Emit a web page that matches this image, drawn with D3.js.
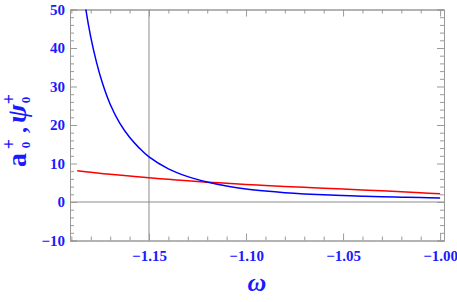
<!DOCTYPE html>
<html>
<head>
<meta charset="utf-8">
<script src="https://cdn.jsdelivr.net/npm/d3@7"></script>
<style>
  body { margin: 0; background: #fff; }
  text { font-family: "Liberation Serif", "DejaVu Serif", serif; font-weight: bold; fill: #1a1aff; }
</style>
</head>
<body>
<div id="chart"></div>
<script>
var W = 457, H = 302;

// omega samples and read-off values
var omegaBlue = [-1.186, -1.183, -1.180, -1.177, -1.174, -1.170, -1.165, -1.160, -1.155, -1.150,
                 -1.140, -1.130, -1.120, -1.110, -1.100, -1.090, -1.080, -1.070, -1.060, -1.050,
                 -1.040, -1.030, -1.020, -1.010, -1.000];
var aBlue = [63, 51.5, 42.8, 36.2, 30.9, 25.4, 20.4, 16.8, 14, 11.7,
             8.6, 6.6, 5.2, 4.15, 3.4, 2.85, 2.42, 2.1, 1.86, 1.66,
             1.5, 1.37, 1.25, 1.15, 1.05];

var omegaRed = [-1.187, -1.180, -1.170, -1.160, -1.150, -1.140, -1.130, -1.120, -1.110, -1.100,
                -1.090, -1.080, -1.070, -1.060, -1.050, -1.040, -1.030, -1.020, -1.010, -1.000];
var psiRed = [8.1, 7.7, 7.2, 6.75, 6.3, 5.9, 5.5, 5.15, 4.85, 4.55,
              4.3, 4.05, 3.8, 3.55, 3.35, 3.1, 2.9, 2.65, 2.4, 2.15];

var xMajor = [-1.15, -1.10, -1.05, -1.00];
var yMajor = [-10, 0, 10, 20, 30, 40, 50];

var mL = 70, mR = 444, mT = 9.5, mB = 240.5;

var x = d3.scaleLinear().domain([-1.1907, -0.998]).range([mL, mR]);
var y = d3.scaleLinear().domain([-10, 50]).range([mB, mT]);

var svg = d3.select("#chart").append("svg")
    .attr("width", W)
    .attr("height", H);

svg.append("clipPath").attr("id", "clip")
  .append("rect")
    .attr("x", mL).attr("y", mT)
    .attr("width", mR - mL).attr("height", mB - mT);

// origin axes (at omega=-1.15, 0)
svg.append("line")
    .attr("x1", x(-1.15)).attr("x2", x(-1.15))
    .attr("y1", mT).attr("y2", mB)
    .attr("stroke", "#8c8c8c").attr("stroke-width", 1);
svg.append("line")
    .attr("x1", mL).attr("x2", mR)
    .attr("y1", y(0)).attr("y2", y(0))
    .attr("stroke", "#8c8c8c").attr("stroke-width", 1);

// frame with ticks on all sides
var xMinor = d3.range(-1.19, -0.9995, 0.01).filter(function(v) {
  return !xMajor.some(function(m) { return Math.abs(m - v) < 1e-6; });
});
var yMinor = d3.range(-10, 50.01, 2).filter(function(v) { return v % 10 != 0; });

var frameColor = "#9a9a9a";

var gx = svg.append("g").attr("transform", "translate(0," + mB + ")")
    .call(d3.axisBottom(x).tickValues(xMajor).tickSize(-7).tickPadding(10)
      .tickFormat(function(d) { return d3.format(".2f")(d).replace("-", "\u2212"); }));
var gxm = svg.append("g").attr("transform", "translate(0," + mB + ")")
    .call(d3.axisBottom(x).tickValues(xMinor).tickSize(-4).tickFormat(""));
var gxt = svg.append("g").attr("transform", "translate(0," + mT + ")")
    .call(d3.axisTop(x).tickValues(xMajor).tickSize(-7).tickFormat(""));
var gxtm = svg.append("g").attr("transform", "translate(0," + mT + ")")
    .call(d3.axisTop(x).tickValues(xMinor).tickSize(-4).tickFormat(""));

var gy = svg.append("g").attr("transform", "translate(" + mL + ",0)")
    .call(d3.axisLeft(y).tickValues(yMajor).tickSize(-7).tickPadding(5)
      .tickFormat(function(d) { return String(d).replace("-", "\u2212"); }));
var gym = svg.append("g").attr("transform", "translate(" + mL + ",0)")
    .call(d3.axisLeft(y).tickValues(yMinor).tickSize(-4).tickFormat(""));
var gyr = svg.append("g").attr("transform", "translate(" + mR + ",0)")
    .call(d3.axisRight(y).tickValues(yMajor).tickSize(-7).tickFormat(""));
var gyrm = svg.append("g").attr("transform", "translate(" + mR + ",0)")
    .call(d3.axisRight(y).tickValues(yMinor).tickSize(-4).tickFormat(""));

[gx, gxm, gxt, gxtm, gy, gym, gyr, gyrm].forEach(function(g) {
  g.selectAll(".domain").attr("stroke", frameColor).attr("stroke-width", 1);
  g.selectAll(".tick line").attr("stroke", frameColor);
  g.selectAll("text").attr("fill", "#1a1aff")
    .style("font-family", "'Liberation Serif', serif")
    .style("font-weight", "bold")
    .style("font-size", "15px");
});

// curves
var line = d3.line()
    .x(function(d) { return x(d[0]); })
    .y(function(d) { return y(d[1]); })
    .curve(d3.curveCatmullRom.alpha(0.5));

var plot = svg.append("g").attr("clip-path", "url(#clip)");

plot.append("path")
    .datum(d3.zip(omegaRed, psiRed))
    .attr("fill", "none")
    .attr("stroke", "#ff0000")
    .attr("stroke-width", 1.5)
    .attr("d", line);

plot.append("path")
    .datum(d3.zip(omegaBlue, aBlue))
    .attr("fill", "none")
    .attr("stroke", "#0000ff")
    .attr("stroke-width", 1.5)
    .attr("d", line);

// x label
svg.append("text")
    .attr("x", (mL + mR) / 2)
    .attr("y", 291)
    .attr("text-anchor", "middle")
    .style("font-size", "26px")
    .style("font-style", "italic")
    .text("\u03c9");

// y label: a0+ , psi0+
var yl = svg.append("g").attr("transform", "translate(26,128) rotate(-90)");
yl.append("text").attr("x", -39).attr("y", 0).style("font-size", "28px").text("a");
yl.append("text").attr("x", -17).attr("y", 4).attr("text-anchor", "middle").style("font-size", "13px").text("0");
yl.append("text").attr("x", -16).attr("y", -11).attr("text-anchor", "middle").style("font-size", "18px").text("+");
yl.append("text").attr("x", -5).attr("y", 0).style("font-size", "24px").text(",");
yl.append("text").attr("x", 5).attr("y", 0).style("font-size", "28px").style("font-style", "italic").text("\u03c8");
yl.append("text").attr("x", 28).attr("y", 4).attr("text-anchor", "middle").style("font-size", "13px").text("0");
yl.append("text").attr("x", 29).attr("y", -11).attr("text-anchor", "middle").style("font-size", "18px").text("+");
</script>
</body>
</html>
